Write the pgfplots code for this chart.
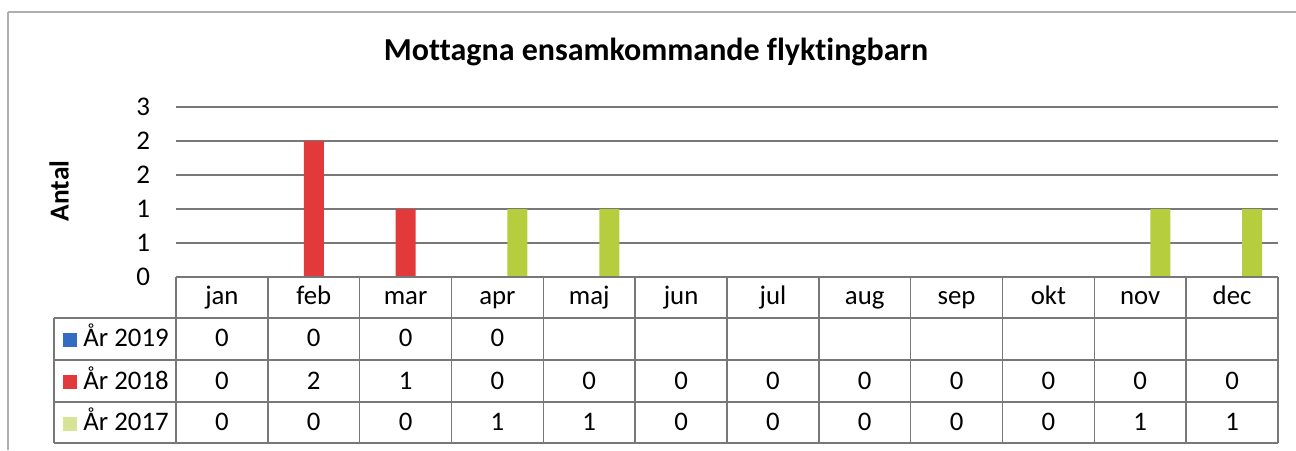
\documentclass[border=0pt]{standalone}
\usepackage{pgfplots}
\pgfplotsset{compat=1.18}
\usepackage{pgfplotstable}
\usepackage{fontspec}
\setmainfont[Ligatures=NoCommon]{Carlito}
\definecolor{c19}{RGB}{52,108,196}
\definecolor{c18}{RGB}{226,58,58}
\definecolor{c17}{RGB}{182,206,62}
\definecolor{gridc}{RGB}{120,120,120}
\definecolor{framec}{RGB}{175,175,175}

\pgfplotstableread{
x y
0 0
1 0
2 0
3 0
}\dataA
\pgfplotstableread{
x y
0 0
1 2
2 1
3 0
4 0
5 0
6 0
7 0
8 0
9 0
10 0
11 0
}\dataB
\pgfplotstableread{
x y
0 0
1 0
2 0
3 1
4 1
5 0
6 0
7 0
8 0
9 0
10 1
11 1
}\dataC

\newcommand\tf{\fontsize{13.4}{15}\selectfont}

\begin{document}
\begin{tikzpicture}
\useasboundingbox (0,0) rectangle (648pt,225pt);
\begin{axis}[
  at={(88pt,86.5pt)}, anchor=south west,
  scale only axis, width=551pt, height=85pt,
  xmin=-0.5, xmax=11.5, ymin=0, ymax=2.5,
  ybar=0pt, bar width=10pt,
  xtick=\empty,
  ytick={0,0.5,1,1.5,2,2.5},
  yticklabels={0,1,1,2,2,3},
  yticklabel style={font=\fontsize{13.5}{15}\selectfont, xshift=-9.5pt},
  /pgf/number format/assume math mode=true,
  ymajorgrids, grid style={gridc, line width=0.7pt},
  axis line style={draw=none},
  major tick length=0pt,
  clip=false,
]
\addplot[fill=c19, draw=none] table[x=x,y=y] {\dataA};
\addplot[fill=c18, draw=none] table[x=x,y=y] {\dataB};
\addplot[fill=c17, draw=none] table[x=x,y=y] {\dataC};
\end{axis}

\begin{scope}[x=0.5pt, y=-0.5pt, yshift=225pt]
  % outer frame
  \draw[framec, line width=0.8pt] (8,12) -- (1296,12);
  \draw[framec, line width=0.8pt] (8,12) -- (8,450);
  % title
  \node[font=\bfseries\fontsize{16}{18}\selectfont] at (656,52) {Mottagna ensamkommande flyktingbarn};
  % y label
  \node[font=\bfseries\fontsize{13.7}{15}\selectfont, rotate=90] at (59,191) {Antal};
  % table lines
  \foreach \k in {0,...,12} {
    \draw[gridc, line width=0.7pt] ({176+\k*91.833},277) -- ({176+\k*91.833},443);
  }
  \draw[gridc, line width=0.7pt] (54,318) -- (54,443);
  \draw[gridc, line width=0.7pt] (176,277) -- (1278,277);
  \foreach \yy in {318,360,402,443} {
    \draw[gridc, line width=0.7pt] (54,\yy) -- (1278,\yy);
  }
  % month names
  \foreach \m [count=\i from 0] in {jan,feb,mar,apr,maj,jun,jul,aug,sep,okt,nov,dec} {
    \node[font=\tf, anchor=base] at ({176+(\i+0.5)*91.833},305) {\m};
  }
  % row 2019
  \foreach \v [count=\i from 0] in {0,0,0,0} {
    \node[font=\tf, anchor=base] at ({176+(\i+0.5)*91.833},347) {\v};
  }
  % row 2018
  \foreach \v [count=\i from 0] in {0,2,1,0,0,0,0,0,0,0,0,0} {
    \node[font=\tf, anchor=base] at ({176+(\i+0.5)*91.833},389) {\v};
  }
  % row 2017
  \foreach \v [count=\i from 0] in {0,0,0,1,1,0,0,0,0,0,1,1} {
    \node[font=\tf, anchor=base] at ({176+(\i+0.5)*91.833},431) {\v};
  }
  % legend keys
  \fill[c19] (63,333) rectangle (77,347);
  \fill[c18] (63,375) rectangle (77,389);
  \fill[c17!55] (63,417) rectangle (77,431);
  \node[font=\tf, anchor=base west, inner sep=0pt] at (83,347) {År 2019};
  \node[font=\tf, anchor=base west, inner sep=0pt] at (83,389) {År 2018};
  \node[font=\tf, anchor=base west, inner sep=0pt] at (83,431) {År 2017};
\end{scope}
\end{tikzpicture}
\end{document}
